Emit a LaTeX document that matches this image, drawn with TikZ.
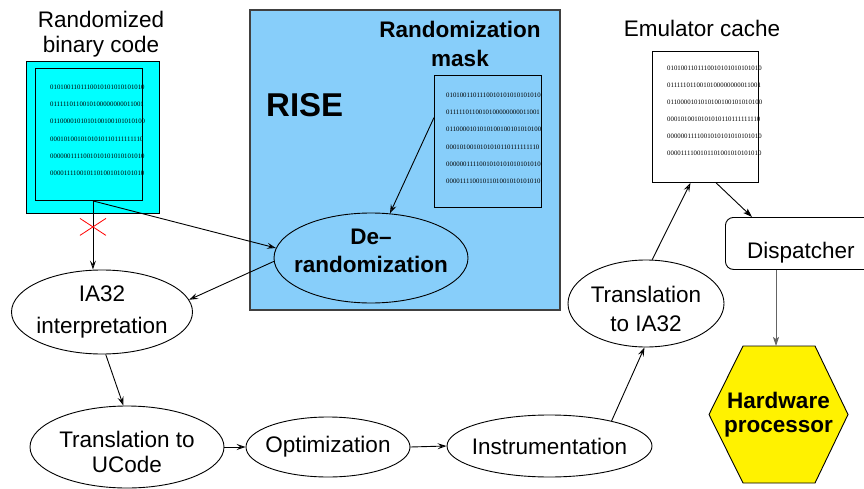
\documentclass[tikz,border=0pt]{standalone}
\usepackage{fontspec}
\setmainfont{Liberation Sans}
\newfontfamily\bitfont{Liberation Serif}
\usetikzlibrary{arrows.meta,shapes.geometric,calc}

\definecolor{riseblue}{RGB}{135,206,250}
\definecolor{codecyan}{RGB}{0,255,255}
\definecolor{wireGray}{RGB}{100,100,100}

% six rows of bits shown inside each code sheet
\newcommand\bitrows{0101001101110010101010101010\\0111110110010100000000011001\\0110000101010100100101010100\\0001010010101010110111111110\\0000001111001010101010101010\\0000111100101101001010101010}

\tikzset{
  lbl/.style={font=\fontsize{22.5}{25}\selectfont, inner sep=0, align=center},
  % negative inner sep lets the minimum size alone fix the ellipse
  oval/.style={draw, ellipse, inner sep=-80pt, align=center, line width=0.9pt,
               font=\fontsize{22.5}{29}\selectfont},
  sheet/.style={draw, line width=0.9pt, inner sep=0, anchor=north west},
  bits/.style={font=\bitfont\fontsize{6.8}{17.3}\selectfont, align=left,
               inner sep=0, anchor=north west},
  flow/.style={line width=0.9pt, -{Stealth[open,length=9pt,width=6pt,inset=3.5pt]}},
  solidflow/.style={line width=0.9pt, -{Stealth[length=9pt,width=6pt,inset=2pt]}},
}

\begin{document}
\begin{tikzpicture}[x=1pt,y=-1pt]
\clip (0,0) rectangle (864,489);

% RISE region
\node[draw=black!75, line width=1.6pt, fill=riseblue, minimum width=310,
      minimum height=300, anchor=north west, inner sep=0] (rise) at (249,9) {};
\node[font=\bfseries\fontsize{33}{36}\selectfont, inner sep=0, anchor=base west]
      (risetitle) at (266,117) {RISE};

% randomized binary code sheet
\node[lbl] (codetitle) at (101,33.8) {Randomized\\binary code};
\node[sheet, fill=codecyan, minimum width=133, minimum height=152] (codebg) at (26,61) {};
\node[sheet, fill=codecyan, minimum width=107, minimum height=132] (code) at (35,68) {};
\node[bits] (codebits) at (50,84.4) {\bitrows};

% randomization mask sheet
\node[lbl, font=\bfseries\fontsize{22.5}{29}\selectfont] (masktitle) at (460,44.3)
      {Randomization\\mask};
\node[sheet, minimum width=107, minimum height=132] (mask) at (434,75) {};
\node[bits] (maskbits) at (446,92.4) {\bitrows};

% emulator cache sheet
\node[lbl, anchor=base] (cachetitle) at (702,37) {Emulator cache};
\node[sheet, fill=white, minimum width=106, minimum height=131] (cache) at (652,51) {};
\node[bits, font=\bitfont\fontsize{6.8}{17}\selectfont] (cachebits) at (667,65.4) {\bitrows};

% processing stages
\node[oval, minimum width=194, minimum height=90,
      font=\bfseries\fontsize{22.5}{28}\selectfont] (derand) at (371,258)
      {De--\\randomization\rule[-14pt]{0pt}{0pt}};
\node[oval, minimum width=181, minimum height=84,
      font=\fontsize{22.5}{32}\selectfont] (ia32) at (102,312) {IA32\\interpretation};
\node[oval, minimum width=194, minimum height=82,
      font=\fontsize{22.5}{25}\selectfont] (ucode) at (127,447)
      {\rule{0pt}{27pt}Translation to\\UCode};
\node[oval, minimum width=164, minimum height=60] (opt) at (328,447) {Optimization};
\node[oval, minimum width=205, minimum height=62] (instr) at (549.5,446) {Instrumentation};
\node[oval, minimum width=156, minimum height=87] (trans) at (646,303.5)
      {\rule{0pt}{28pt}Translation\\to IA32};

% dispatcher box, open to the right
\node[draw, line width=0.9pt, rounded corners=8pt, minimum width=200,
      minimum height=52, anchor=north west, inner sep=0] (disp) at (725,217) {};
\node[lbl, anchor=base west] (disptext) at (747,258) {Dispatcher};

% hardware processor hexagon
\coordinate (hexA) at (743,346);
\coordinate (hexB) at (815,346);
\coordinate (hexC) at (848,414.5);
\coordinate (hexD) at (815,483);
\coordinate (hexE) at (743,483);
\coordinate (hexF) at (709,414.5);
\draw[fill=yellow, line width=0.9pt] (hexA) -- (hexB) -- (hexC) -- (hexD) -- (hexE) -- (hexF) -- cycle;
\node[lbl, font=\bfseries\fontsize{22.5}{24}\selectfont] (hw) at (778.5,414.5) {Hardware\\processor};
\coordinate (hextop) at (779,346);

% connectors
\coordinate (split) at (codebg.center |- code.south);
\draw[flow] (split) -- (split |- ia32.north);
\coordinate (cut) at ($(split)+(0,26)$);
\draw[red, line width=0.8pt] ($(cut)+(-13,-8.5)$) -- ($(cut)+(13,8.5)$)
                              ($(cut)+(-13,8.5)$) -- ($(cut)+(13,-8.5)$);
\draw[flow] (split) -- (derand.174);
\draw[flow] (derand.182) -- (ia32.8);
\coordinate (maskout) at ($(mask.north west)!0.32!(mask.south west)$);
\draw[flow] (maskout) -- (derand.67);
\draw[flow] (ia32.-85) -- (ucode.95);
\draw[flow] (ucode.east) -- (opt.west);
\draw[flow] (opt.east) -- (instr.west);
\draw[flow] (instr.22) -- (trans.-92);
\coordinate (cachein) at ($(cache.south west)!0.36!(cache.south east)$);
\draw[flow] (trans.82) -- (cachein);
\coordinate (cacheout) at ($(cache.south west)!0.6!(cache.south east)$);
\coordinate (dispin) at ($(disp.north west)+(27,0)$);
\draw[solidflow] (cacheout) -- (dispin);
\coordinate (dispout) at ($(disp.south west)+(51,0)$);
\draw[solidflow, draw=wireGray] (dispout) -- (dispout |- hextop);
\end{tikzpicture}
\end{document}
